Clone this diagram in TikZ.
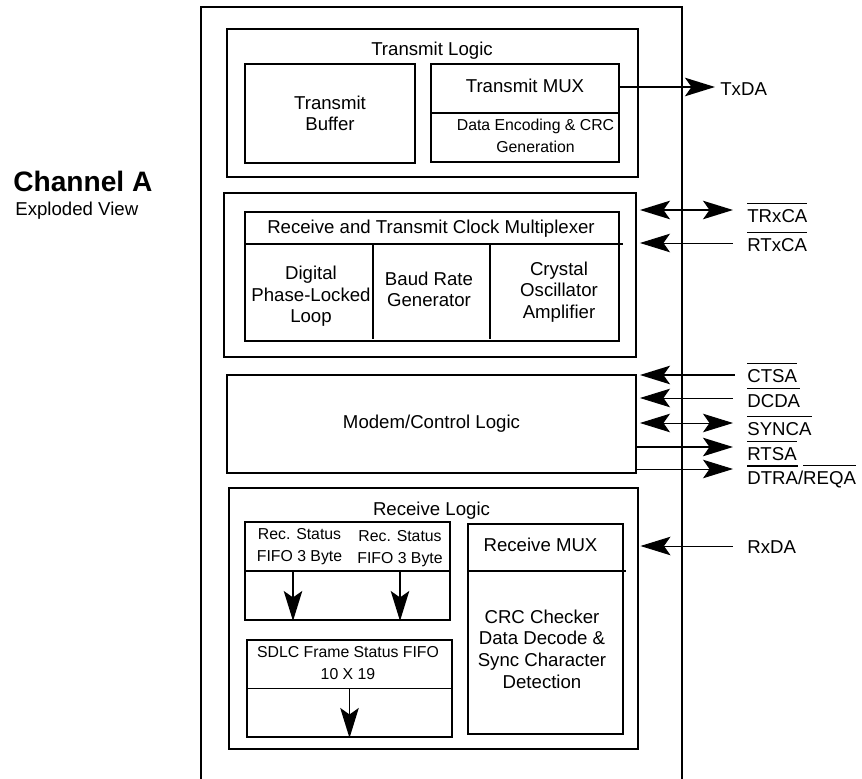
\documentclass[tikz,border=0pt]{standalone}
\usepackage{fontspec}
\setmainfont{Liberation Sans}
\usetikzlibrary{arrows.meta}

\newcommand{\ovl}[1]{\leavevmode\vbox{\hrule height 0.8pt\kern 2.6pt\hbox{#1}}}
\newcommand{\mainsize}{\fontsize{10.6pt}{12.3pt}\selectfont}
\newcommand{\smallsize}{\fontsize{9pt}{12.5pt}\selectfont}

\begin{document}
\begin{tikzpicture}[font=\mainsize,
  block/.style={rectangle, draw, line width=1.1pt},
  divider/.style={line width=1.1pt},
  txt/.style={inner sep=0pt, align=center},
  pin/.style={inner sep=0pt, anchor=base west},
  sig/.style={line width=0.5pt},
  bus/.style={line width=0.9pt},
  >={Stealth[length=0.6cm, width=0.37cm, inset=0.13cm]}]
  \useasboundingbox (0,0) rectangle (17.24,-15.56);
  \clip (0,0) rectangle (17.24,-15.56);
  % Nodes
  \node (chip) [block, minimum height=16cm, minimum width=9.62cm] at (8.83, -8.14) {};
  \node (ch) [pin, font=\bfseries\fontsize{16pt}{18pt}\selectfont] at (0.26, -3.82) {Channel A};
  \node (ev) [pin] at (0.3, -4.3) {Exploded View};
  % Transmit Logic
  \node (tl) [block, minimum height=2.96cm, minimum width=8.22cm] at (8.65, -2.06) {};
  \node (tl-t) [anchor=base] at (8.64, -1.1) {Transmit Logic};
  \node (tb) [block, minimum height=1.98cm, minimum width=3.4cm, align=center] at (6.6, -2.27) {Transmit\\Buffer};
  \node (tm) [block, minimum height=1.96cm, minimum width=3.76cm] at (10.5, -2.26) {};
  \node (tm-t) [anchor=base] at (10.5, -1.86) {Transmit MUX};
  \node (tm-s) [txt, font=\smallsize] at (10.71, -2.72) {Data Encoding \& CRC\\Generation};
  \draw[divider] (tm.west) -- (tm.east);
  % Clock Multiplexer
  \node (ck) [block, minimum height=3.28cm, minimum width=8.24cm] at (8.6, -5.5) {};
  \node (cm) [block, minimum height=2.58cm, minimum width=7.48cm] at (8.64, -5.53) {};
  \node (cm-t) [anchor=base] at (8.62, -4.66) {Receive and Transmit Clock Multiplexer};
  \node (dpll) [txt] at (6.22, -5.93) {Digital\\Phase-Locked\\Loop};
  \node (brg) [txt] at (8.58, -5.79) {Baud Rate\\Generator};
  \node (coa) [txt] at (11.18, -5.84) {Crystal\\Oscillator\\Amplifier};
  \draw[divider] ([yshift=-0.66cm]cm.north west) -- ([xshift=0.06cm, yshift=-0.66cm]cm.north east);
  \draw[divider] (7.46, -4.9) -- (7.46, -6.78);
  \draw[divider] (9.8, -4.9) -- (9.8, -6.78);
  % Modem
  \node (md) [block, minimum height=1.96cm, minimum width=8.18cm] at (8.63, -8.48) {Modem/Control Logic};
  % Receive Logic
  \node (rl) [block, minimum height=5.22cm, minimum width=8.18cm] at (8.67, -12.37) {};
  \node (rl-t) [anchor=base] at (8.63, -10.3) {Receive Logic};
  \node (rs) [block, minimum height=1.96cm, minimum width=4.1cm] at (6.95, -11.42) {};
  \node (rs-a) [txt, font=\smallsize] at (5.99, -10.94) {Rec. Status\\FIFO 3 Byte};
  \node (rs-b) [txt, font=\smallsize] at (8.0, -10.98) {Rec. Status\\FIFO 3 Byte};
  \node (sd) [block, minimum height=1.94cm, minimum width=4.1cm] at (6.99, -13.77) {};
  \node (sd-t) [txt, font=\smallsize] at (6.96, -13.27) {SDLC Frame Status FIFO\\10 X 19};
  \node (rm) [block, minimum height=4.2cm, minimum width=3.1cm] at (10.91, -12.58) {};
  \node (rm-t) [anchor=base] at (10.81, -11.03) {Receive MUX};
  \node (rm-s) [txt] at (10.84, -12.98) {CRC Checker\\Data Decode \&\\Sync Character\\Detection};
  \draw[divider] (rs.west) -- (rs.east);
  \draw[divider] (sd.west) -- (sd.east);
  \draw[divider] ([yshift=-0.96cm]rm.north west) -- ([xshift=0.04cm, yshift=-0.96cm]rm.north east);
  % Pins
  \coordinate (txda-e) at (14.3, -1.74);
  \coordinate (trxca-e) at (14.66, -4.2);
  \coordinate (rtxca-e) at (14.66, -4.86);
  \coordinate (ctsa-e) at (14.7, -7.5);
  \coordinate (dcda-e) at (14.66, -7.96);
  \coordinate (synca-e) at (14.66, -8.46);
  \coordinate (rtsa-e) at (14.66, -8.94);
  \coordinate (dtra-e) at (14.66, -9.38);
  \coordinate (rxda-e) at (14.66, -10.92);
  \node (txda) [pin] at (14.4, -1.9) {TxDA};
  \node (trxca) [pin] at (14.94, -4.44) {\ovl{TRxCA}};
  \node (rtxca) [pin] at (14.94, -5.02) {\ovl{RTxCA}};
  \node (ctsa) [pin] at (14.94, -7.64) {\ovl{CTSA}};
  \node (dcda) [pin] at (14.94, -8.14) {\ovl{DCDA}};
  \node (synca) [pin] at (14.94, -8.7) {\ovl{SYNCA}};
  \node (rtsa) [pin] at (14.94, -9.2) {\ovl{RTSA}};
  \node (dtra) [pin] at (14.94, -9.68) {\ovl{DTRA}/\ovl{REQA}};
  \node (rxda) [pin] at (14.94, -11.06) {RxDA};
  % Arrow
  \draw[->, bus] (tm.east |- txda-e) -- (txda-e);
  \draw[<->, bus, shorten <=0.06cm] (ck.east |- trxca-e) -- (trxca-e);
  \draw[<-, sig, shorten <=0.06cm] (ck.east |- rtxca-e) -- (rtxca-e);
  \draw[<-, bus, shorten <=0.06cm] (md.east |- ctsa-e) -- (ctsa-e);
  \draw[<-, sig, shorten <=0.06cm] (md.east |- dcda-e) -- (dcda-e);
  \draw[<->, sig, shorten <=0.06cm] (md.east |- synca-e) -- (synca-e);
  \draw[->, bus] (md.east |- rtsa-e) -- (rtsa-e);
  \draw[->, sig] (md.east |- dtra-e) -- (dtra-e);
  \draw[<-, sig, shorten <=0.03cm] (rl.east |- rxda-e) -- (rxda-e);
  \coordinate (ra) at (5.86, -11.44);
  \draw[->, bus] (ra) -- (ra |- rs.south);
  \draw[->, bus] (rs-b |- rs.center) -- (rs-b |- rs.south);
  \draw[->, bus] (sd.center) -- (sd.south);
\end{tikzpicture}
\end{document}
